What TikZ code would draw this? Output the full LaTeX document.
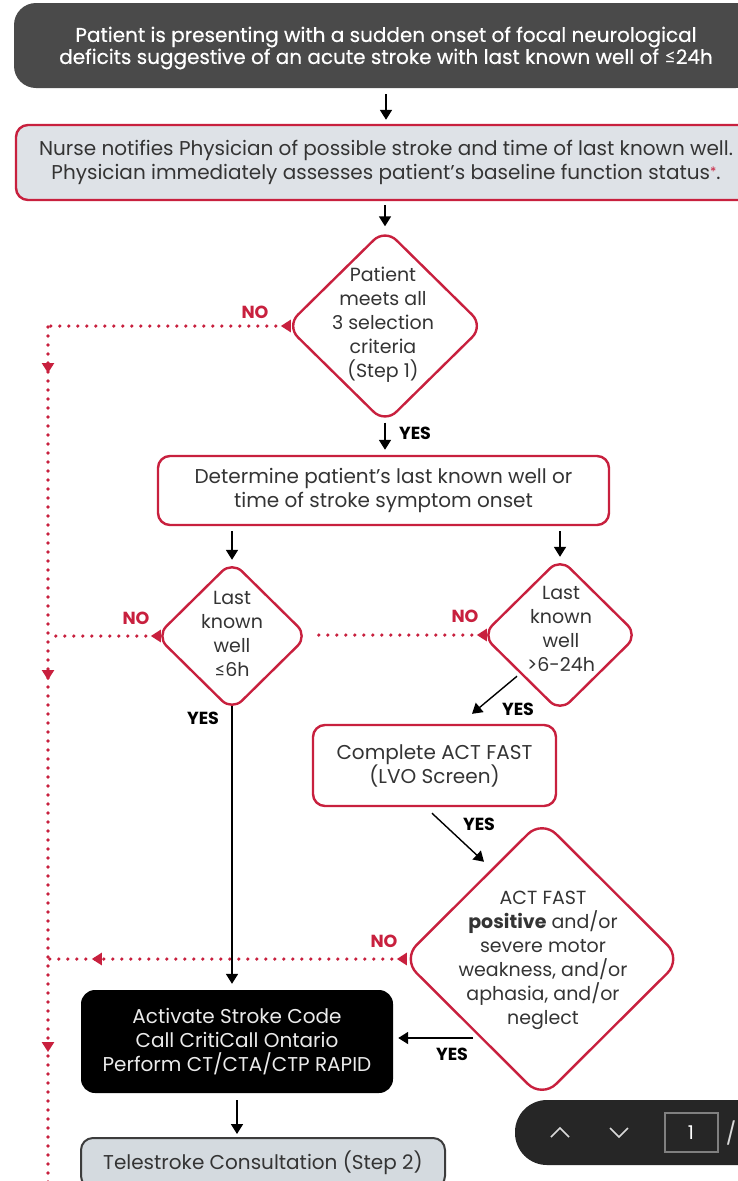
\documentclass[tikz,border=0pt]{standalone}
\usepackage{fontspec}
\setmainfont{Poppins}
\newfontfamily\medfont[FakeBold=0.5]{Poppins}
\newfontfamily\symfont{Lato}
\usetikzlibrary{shapes.geometric,arrows.meta,decorations.markings}

\definecolor{strokered}{RGB}{200,32,62}
\definecolor{ink}{RGB}{52,52,52}
\definecolor{topgray}{RGB}{74,74,74}
\definecolor{paleblue}{RGB}{222,226,231}
\definecolor{telefill}{RGB}{212,218,223}
\definecolor{teleline}{RGB}{60,60,60}
\definecolor{pillgray}{RGB}{38,38,38}

\begin{document}
\begin{tikzpicture}[x=1pt,y=-1pt,
  txt/.style={font=\fontsize{20}{24}\selectfont, text=ink, align=center, inner sep=0pt},
  dtxt/.style={font=\fontsize{19}{24}\selectfont, text=ink, align=center, inner sep=0pt},
  box/.style={txt, draw=strokered, line width=2.4pt, rounded corners=12pt, fill=white},
  dia/.style={diamond, draw=strokered, line width=2.4pt, rounded corners=16pt, fill=white, inner sep=0pt},
  arr/.style={draw=black, line width=1.8pt, -{Triangle[width=12pt,length=10pt]}},
  noline/.style={draw=strokered, line width=3.6pt, line cap=round, dash pattern=on 0pt off 9pt},
  marker/.style={postaction={decorate, decoration={markings,
      mark=at position #1 with {\arrow[strokered]{Triangle[width=12pt,length=10pt]}}}}},
  yes/.style={font=\fontsize{17.5}{18}\selectfont\bfseries, text=black, inner sep=0pt},
  no/.style={font=\fontsize{17.5}{18}\selectfont\bfseries, text=strokered, inner sep=0pt}
]
\useasboundingbox (0,0) rectangle (738,1181);
\clip (0,0) rectangle (738,1181);
\fill[white] (0,0) rectangle (738,1181);

% ---------- boxes ----------
\node[fill=topgray, rounded corners=22pt, minimum width=744pt, minimum height=85pt, inner sep=0pt] (top) at (386,45.5) {};
\node[txt, text=white, font=\fontsize{20}{22}\selectfont\medfont] (topt) at (386,48)
  {Patient is presenting with a sudden onset of focal neurological\\deficits suggestive of an acute stroke with last known well of {\symfont ≤}24h};

\node[box, fill=paleblue, minimum width=740pt, minimum height=75pt] (nurse) at (386,162.5)
  {Nurse notifies Physician of possible stroke and time of last known well.\\Physician immediately assesses patient’s baseline function status{\color{strokered}\fontsize{13}{13}\selectfont\raisebox{3pt}{*}}.};

\node[dia, minimum width=198pt, minimum height=195pt] (d1) at (385,326) {};
\node[dtxt] (d1t) at (383,325) {Patient\\meets all\\3 selection\\criteria\\(Step 1)};

\node[box, minimum width=451pt, minimum height=69pt] (det) at (383.5,490.5)
  {Determine patient’s last known well or\\time of stroke symptom onset};

\node[dia, rounded corners=14pt, minimum width=152pt, minimum height=150pt] (d2) at (232,636) {};
\node[dtxt] (d2t) at (232,634) {Last\\known\\well\\{\symfont ≤}6h};

\node[dia, rounded corners=14pt, minimum width=156pt, minimum height=154pt] (d3) at (560,635) {};
\node[dtxt] (d3t) at (561,629) {Last\\known\\well\\>6-24h};

\node[box, minimum width=243pt, minimum height=81pt] (act) at (434.5,765.5)
  {Complete ACT FAST\\(LVO Screen)};

\node[dia, rounded corners=20pt, minimum width=280pt, minimum height=279pt] (bd) at (542,959) {};
\node[dtxt] (bdt) at (543,960)
  {ACT FAST\\\textbf{positive} and/or\\severe motor\\weakness, and/or\\aphasia, and/or\\neglect};

\node[txt, fill=black, text=white!92!black, rounded corners=14pt, minimum width=312pt, minimum height=103pt] (code) at (237,1041.5)
  {Activate Stroke Code\\Call CritiCall Ontario\\Perform CT/CTA/CTP RAPID};

\node[txt, fill=telefill, draw=teleline, line width=2pt, rounded corners=12pt, minimum width=364pt, minimum height=50pt] (tele) at (263,1163)
  {Telestroke Consultation (Step 2)};

% ---------- NO paths (dotted) ----------
\coordinate (railtop) at (48,327);
\coordinate (railend) at (48,1195);
\coordinate (gapend) at (318,633);

\draw[noline, marker=46pt, marker=353pt, marker=725pt] (railtop) -- (railend);
\draw[noline, marker=4pt] (d1.west) -- (d1.west -| railtop);
\draw[noline, marker=4pt] (d2.west) -- (d2.west -| railtop);
\draw[noline, marker=4pt] (d3.west) -- (d3.west -| gapend);
\draw[noline, marker=4pt, marker=309pt] (bd.west) -- (bd.west -| railtop);

% ---------- solid connectors ----------
\draw[arr, shorten <=6pt, shorten >=4pt] (top) -- (nurse);
\draw[arr, shorten <=4pt, shorten >=1pt] (nurse.south -| d1.north) -- (d1.north);
\draw[arr, shorten <=-2pt, shorten >=5pt] (d1.south) -- (d1.south |- det.north);
\draw[arr, shorten <=5pt] (det.south -| d2.north) -- (d2.north);
\draw[arr, shorten <=5pt] (det.south -| d3.north) -- (d3.north);
\draw[arr, shorten <=-6pt, shorten >=6pt] (d2.south) -- (d2.south |- code.north);
\draw[arr, line width=1.4pt] ([xshift=-43pt,yshift=37pt]d3.south) -- ([xshift=37.5pt,yshift=10pt]act.north);
\draw[arr, line width=1.4pt] ([xshift=-2.5pt,yshift=-6pt]act.south) -- ([xshift=-58pt,yshift=-43.5pt]bd.north);
\draw[arr] ([xshift=-69pt,yshift=-79pt]bd.center) -- ([xshift=5pt,yshift=3.5pt]code.east);
\draw[arr, shorten <=7pt, shorten >=3pt] (code.south) -- (code.south |- tele.north);

% ---------- labels ----------
\node[no] (n1) at (255,312) {NO};
\node[no] (n2) at (136,618) {NO};
\node[no] (n3) at (465,616) {NO};
\node[no] (n4) at (384,941) {NO};
\node[yes] (y1) at (415,433) {YES};
\node[yes] (y2) at (203,718) {YES};
\node[yes] (y3) at (518,709) {YES};
\node[yes] (y4) at (479,824) {YES};
\node[yes] (y5) at (452,1054) {YES};

% ---------- page navigation bar ----------
\fill[pillgray, rounded corners=32pt] (515,1100) rectangle (800,1165);
\draw[white!85!black, line width=1.6pt] (551,1137) -- (560,1128) -- (569,1137);
\draw[white!85!black, line width=1.6pt] (610,1128) -- (619,1137) -- (628,1128);
\draw[gray, line width=1.5pt, fill=black!85] (665,1113) rectangle (718,1152);
\node[font=\fontsize{19}{20}\selectfont, text=white, inner sep=0pt] (pagenum) at (691,1133) {1};
\node[font=\fontsize{22}{22}\selectfont, text=white!85!black, inner sep=0pt] (pagesep) at (731,1133) {/};
\end{tikzpicture}
\end{document}
